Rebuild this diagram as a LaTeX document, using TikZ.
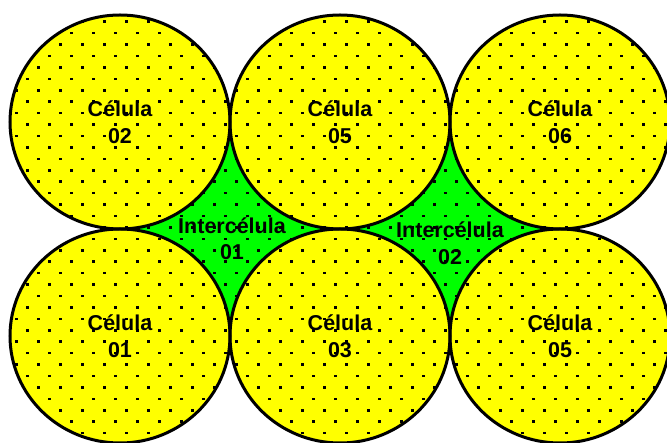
\documentclass[tikz,border=0pt]{standalone}
\usepackage{fontspec}
\setmainfont{Liberation Sans}
\usetikzlibrary{shapes.geometric}
\definecolor{cellyellow}{RGB}{255,255,0}
\definecolor{intergreen}{RGB}{0,255,0}
\begin{document}
\begin{tikzpicture}[x=1pt,y=1pt,
  cell/.style={ellipse,draw=black,line width=3pt,minimum width=220pt,minimum height=214pt,inner sep=0pt,align=center,font=\fontsize{21.5}{26.5}\selectfont\bfseries},
  label/.style={align=center,inner sep=0pt,font=\fontsize{21.5}{26.5}\selectfont\bfseries}]
\useasboundingbox (0,0) rectangle (667,443);
% green interstices
\fill[intergreen] (120,107) rectangle (560,321);
% yellow cells
\foreach \cx/\cy in {120/321,340/321,560/321,120/107,340/107,560/107}
  \fill[cellyellow] (\cx,\cy) ellipse [x radius=110pt, y radius=107pt];
% dot pattern
\begin{scope}
\clip (230,321) arc[start angle=0,end angle=360,x radius=110pt,y radius=107pt]
      (450,321) arc[start angle=0,end angle=360,x radius=110pt,y radius=107pt]
      (670,321) arc[start angle=0,end angle=360,x radius=110pt,y radius=107pt]
      (230,107) arc[start angle=0,end angle=360,x radius=110pt,y radius=107pt]
      (450,107) arc[start angle=0,end angle=360,x radius=110pt,y radius=107pt]
      (670,107) arc[start angle=0,end angle=360,x radius=110pt,y radius=107pt]
      (120,107) -- (560,107) -- (560,321) -- (120,321) -- cycle;
\foreach \k in {0,...,37}{
  \pgfmathsetmacro\yy{443-(21.7+11.43*\k)}
  \pgfmathsetmacro\xo{mod(\k,2)==0 ? 16.3 : 5.3}
  \foreach \j in {0,...,30}{
    \fill[black] (\xo+22*\j-1.25,\yy-1.25) rectangle ++(2.5,2.5);
  }
}
\end{scope}
% cell outlines and labels
\node[cell] (c02) at (120,321) {Célula\\02};
\node[cell] (c05a) at (340,321) {Célula\\05};
\node[cell] (c06) at (560,321) {Célula\\06};
\node[cell] (c01) at (120,107) {Célula\\01};
\node[cell] (c03) at (340,107) {Célula\\03};
\node[cell] (c05b) at (560,107) {Célula\\05};
\node[label] (i01) at (232,204.5) {Intercélula\\01};
\node[label] (i02) at (450,200) {Intercélula\\02};
\end{tikzpicture}
\end{document}
